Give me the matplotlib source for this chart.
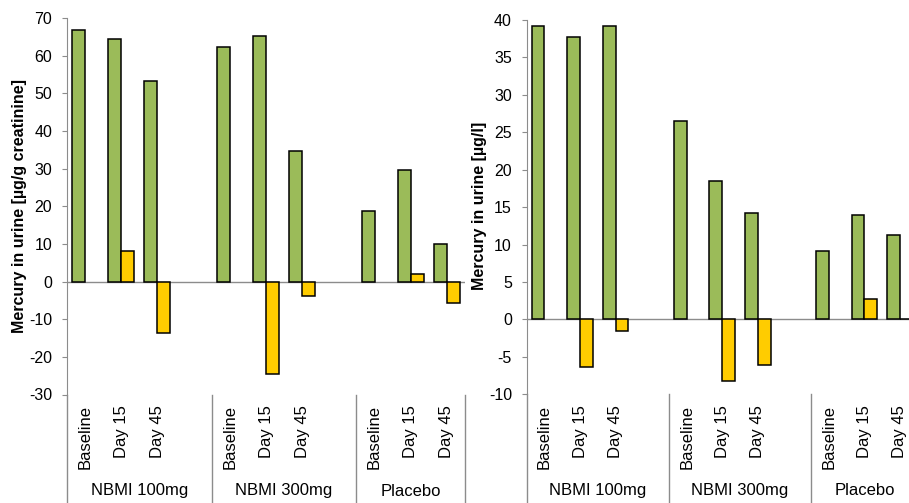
import numpy as np
import matplotlib
matplotlib.use("Agg")
import matplotlib.pyplot as plt

plt.rcParams['font.family'] = ['Liberation Sans', 'DejaVu Sans']
plt.rcParams['axes.unicode_minus'] = False

# categories (a blank slot separates the groups, as in the original Excel chart)
groups = ["NBMI 100mg", "NBMI 300mg", "Placebo"]
timepoints = ["Baseline", "Day 15", "Day 45"]

# left chart: mercury in urine, ug/g creatinine
left_level = [66.7, 64.4, 53.3, 62.3, 65.1, 34.8, 18.7, 29.7, 9.9]
left_change = [np.nan, 8.2, -13.7, np.nan, -24.5, -3.9, np.nan, 1.9, -5.8]
left_ticks = [-30, -20, -10, 0, 10, 20, 30, 40, 50, 60, 70]

# right chart: mercury in urine, ug/l
right_level = [39.2, 37.7, 39.2, 26.5, 18.5, 14.2, 9.1, 13.9, 11.3]
right_change = [np.nan, -6.4, -1.5, np.nan, -8.2, -6.1, np.nan, 2.7, 0.1]
right_ticks = [-10, -5, 0, 5, 10, 15, 20, 25, 30, 35, 40]

GREEN = "#9BBB59"
YELLOW = "#FFCC00"
GRAY = "#8c8c8c"

W, H = 909, 503
fig = plt.figure(figsize=(W / 100, H / 100), dpi=100)

# slot index for each bar: 0,1,2, 4,5,6, 8,9,10
slots = np.array([g * 4 + t for g in range(len(groups)) for t in range(len(timepoints))])
n_slots = len(groups) * 4 - 1


def draw(rect, level, change, ticks, ylabel, label_x):
    ax = fig.add_axes(rect)
    ax.axhline(0, color=GRAY, lw=1, zorder=1)
    ax.bar(slots + 0.32, level, width=0.36, color=GREEN, edgecolor="black",
           linewidth=1.1, zorder=2)
    ch = np.array(change, dtype=float)
    ok = ~np.isnan(ch)
    ax.bar(slots[ok] + 0.68, ch[ok], width=0.36, color=YELLOW, edgecolor="black",
           linewidth=1.1, zorder=2)

    ax.set_xlim(0, n_slots)
    ax.set_ylim(ticks[0], ticks[-1])
    ax.set_yticks(ticks)
    ax.set_xticks([])
    for s in ["top", "right", "bottom"]:
        ax.spines[s].set_visible(False)
    ax.spines["left"].set_color(GRAY)
    ax.tick_params(axis="y", direction="out", length=3.6, color=GRAY,
                   labelsize=11.5, pad=7)

    # category labels, rotated, below the plot area
    for s, t in zip(slots, timepoints * len(groups)):
        ax.annotate(t, xy=(s + 0.5, 0), xycoords=("data", "axes fraction"),
                    xytext=(0, -10.5), textcoords="offset pixels",
                    rotation=90, ha="center", va="top", fontsize=12)
    # group labels and separators
    for g, name in enumerate(groups):
        lo = g * 4
        hi = min(lo + 4, n_slots)
        ax.annotate(name, xy=((lo + hi) / 2, 0), xycoords=("data", "axes fraction"),
                    xytext=(0, -96.5), textcoords="offset pixels",
                    ha="center", va="center", fontsize=12)
    for x in [0, 4, 8, n_slots]:
        ax.plot([x, x], [0, -0.4], color=GRAY, lw=1,
                transform=ax.get_xaxis_transform(), clip_on=False)

    fig.text(label_x / W, 1 - 206 / H, ylabel, rotation=90, ha="center",
             va="center", fontsize=11.5, fontweight="bold")
    return ax


# left panel: x 67..465 px, y 18..394.5 px
draw([67 / W, (H - 394.5) / H, 398 / W, 376.5 / H],
     left_level, left_change, left_ticks,
     "Mercury in urine [µg/g creatinine]", 19.7)

# right panel runs past the right edge of the picture (cropped original)
draw([526.7 / W, (H - 394.3) / H, 391 / W, 374.3 / H],
     right_level, right_change, right_ticks,
     "Mercury in urine [µg/l]", 480)

fig.savefig("out.png", dpi=100)
